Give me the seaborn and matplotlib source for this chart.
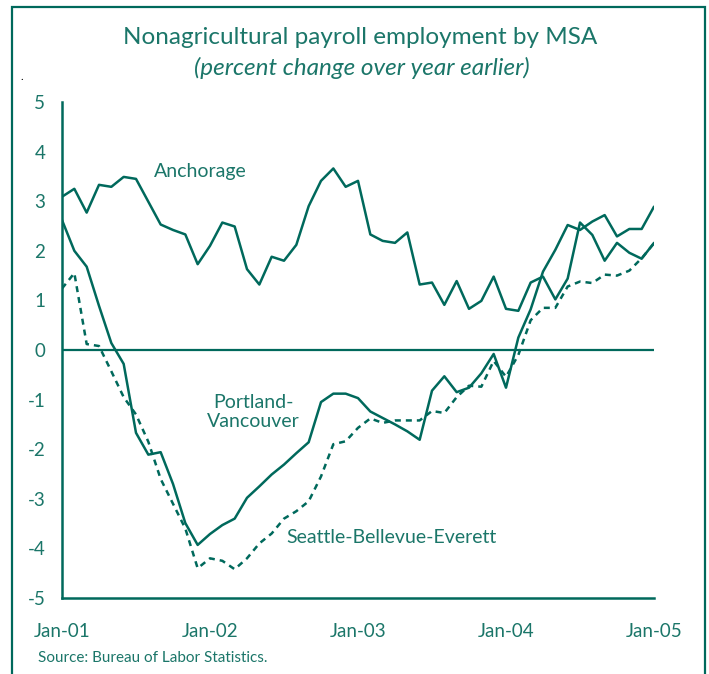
import numpy as np
import pandas as pd
import matplotlib
matplotlib.use("Agg")
import matplotlib.pyplot as plt
from matplotlib.patches import Rectangle
import seaborn as sns

# ---- data (percent change over year earlier, monthly Jan-01 .. Jan-05) ----
anchorage = [3.09, 3.25, 2.77, 3.33, 3.29, 3.49, 3.45, 2.99, 2.53, 2.42, 2.33, 1.73,
             2.10, 2.57, 2.49, 1.63, 1.32, 1.88, 1.80, 2.12, 2.90, 3.41, 3.66, 3.29,
             3.41, 2.33, 2.20, 2.16, 2.37, 1.32, 1.36, 0.91, 1.39, 0.83, 0.99, 1.48,
             0.83, 0.79, 1.36, 1.48, 1.02, 1.44, 2.57, 2.32, 1.80, 2.16, 1.96, 1.84,
             2.16]
portland = [2.62, 2.00, 1.68, 0.89, 0.14, -0.28, -1.67, -2.11, -2.06, -2.70, -3.49, -3.93,
            -3.71, -3.53, -3.40, -2.98, -2.75, -2.51, -2.31, -2.08, -1.86, -1.05, -0.88, -0.88,
            -0.97, -1.24, -1.37, -1.50, -1.64, -1.81, -0.82, -0.53, -0.85, -0.76, -0.47, -0.08,
            -0.76, 0.25, 0.82, 1.58, 2.02, 2.52, 2.42, 2.59, 2.72, 2.29, 2.44, 2.44,
            2.89]
seattle = [1.24, 1.55, 0.12, 0.08, -0.43, -0.95, -1.30, -1.85, -2.60, -3.10, -3.60, -4.40,
           -4.20, -4.25, -4.42, -4.20, -3.90, -3.70, -3.40, -3.25, -3.05, -2.55, -1.90, -1.84,
           -1.57, -1.38, -1.47, -1.42, -1.42, -1.42, -1.23, -1.27, -0.95, -0.72, -0.74, -0.22,
           -0.54, -0.10, 0.60, 0.85, 0.85, 1.28, 1.38, 1.35, 1.52, 1.50, 1.60, 1.85,
           2.15]
months = list(range(len(anchorage)))
xtick_pos = [0, 12, 24, 36, 48]
xtick_labels = ["Jan-01", "Jan-02", "Jan-03", "Jan-04", "Jan-05"]
ytick_vals = [5, 4, 3, 2, 1, 0, -1, -2, -3, -4, -5]
ytick_labels = ["5", "4", "3", "2", "1", "0", "-1", "-2", "-3", "-4", "-5"]

title = "Nonagricultural payroll employment by MSA"
subtitle = "(percent change over year earlier)"
source = "Source: Bureau of Labor Statistics."

# ---- style ----
sns.set_style("white")
plt.rcParams["font.family"] = ["Lato", "DejaVu Sans"]
LINE = "#00695c"
TEXT = "#1b7669"

W, H = 709, 674
fig = plt.figure(figsize=(W / 100, H / 100), dpi=100)
ax = fig.add_axes([62 / W, 1 - 598 / H, (654 - 62) / W, (598 - 102) / H])

df = pd.DataFrame({"month": months, "Anchorage": anchorage,
                   "Portland": portland, "Seattle": seattle})

ax.axhline(0, color=LINE, lw=1.6, zorder=1)
sns.lineplot(data=df, x="month", y="Anchorage", ax=ax, color=LINE, lw=1.8)
sns.lineplot(data=df, x="month", y="Portland", ax=ax, color=LINE, lw=1.8)
sns.lineplot(data=df, x="month", y="Seattle", ax=ax, color=LINE, lw=1.8,
             linestyle=(0, (2.4, 2.0)))

ax.set_xlim(0, 48)
ax.set_ylim(-5, 5)
ax.set_xlabel("")
ax.set_ylabel("")
ax.set_xticks(xtick_pos)
ax.set_xticklabels(xtick_labels)
ax.set_yticks(ytick_vals)
ax.set_yticklabels(ytick_labels)
ax.tick_params(axis="both", colors=LINE, labelcolor=TEXT, labelsize=13.5,
               length=6, width=1.6, direction="out")
ax.tick_params(axis="x", pad=12)
ax.tick_params(axis="y", pad=6)
for side in ["top", "right"]:
    ax.spines[side].set_visible(False)
for side in ["left", "bottom"]:
    ax.spines[side].set_color(LINE)
    ax.spines[side].set_linewidth(1.8)

# series labels
ax.text(11.2, 3.6, "Anchorage", color=TEXT, fontsize=14,
        ha="center", va="center")
ax.text(15.5, -1.25, "Portland-\nVancouver", color=TEXT, fontsize=14,
        ha="center", va="center", linespacing=1.2)
ax.text(18.2, -3.78, "Seattle-Bellevue-Everett", color=TEXT, fontsize=14,
        ha="left", va="center")

# titles and source
fig.text(360 / W, 1 - 37 / H, title, color=TEXT, fontsize=17.5, ha="center", va="center")
fig.text(362 / W, 1 - 68 / H, subtitle, color=TEXT, fontsize=17.5, style="italic",
         ha="center", va="center")
fig.text(38 / W, 1 - 658 / H, source, color=TEXT, fontsize=11, ha="left", va="center")
fig.text(22 / W, 1 - 76 / H, ".", color="black", fontsize=8, ha="center", va="center")

# frame around the figure
fig.patches.append(Rectangle((12 / W, -0.05), (705 - 12) / W, 1.05 - 7 / H,
                             transform=fig.transFigure, fill=False,
                             edgecolor=LINE, lw=1.6))

fig.savefig("out.png", dpi=100)
